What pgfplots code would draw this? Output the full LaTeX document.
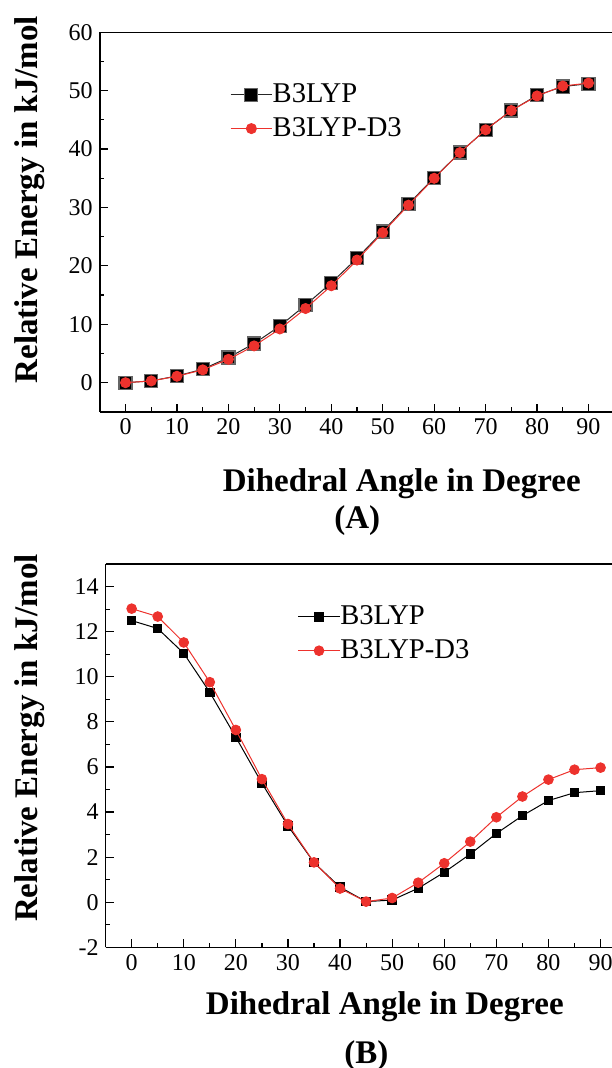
\documentclass[border=0pt]{standalone}
\usepackage{pgfplots}
\pgfplotsset{compat=1.18}
\usepackage{fontspec}
\setmainfont{Liberation Serif}
\definecolor{myred}{RGB}{237,50,45}
\begin{document}
\begin{tikzpicture}
\useasboundingbox (0,0) rectangle (305.5pt,534pt);
\pgfplotsset{
  every axis/.append style={
    scale only axis, clip mode=individual,
    axis x line*=box, axis y line*=left,
    /pgf/number format/assume math mode=true,
    tick label style={font=\fontsize{12}{14}\selectfont},
    label style={font=\fontsize{16.5}{19}\selectfont\bfseries},
    tick align=inside, tick pos=left,
    major tick length=4pt, minor tick length=2.2pt,
    axis line style={line width=0.7pt, -},
    tick style={line width=0.6pt, black},
    legend style={draw=none, fill=none, font=\fontsize{14.3}{16}\selectfont, row sep=6pt, inner sep=0pt, nodes={inner sep=0pt}},
    legend cell align=left,
    legend image code/.code={\draw[mark repeat=2,mark phase=2,#1] plot coordinates {(0pt,0pt) (10.4pt,0pt) (20.8pt,0pt)};},
    xtick={0,10,...,90}, minor x tick num=1, xmin=-5, xmax=95,
  }
}
\pgfplotstableread{
x b d
0 0 0
5 0.3 0.3
10 1.15 1.1
15 2.3 2.2
20 4.3 4.0
25 6.7 6.3
30 9.7 9.2
35 13.3 12.7
40 17.1 16.6
45 21.3 21.0
50 25.9 25.7
55 30.6 30.4
60 35.1 35.0
65 39.4 39.4
70 43.3 43.3
75 46.6 46.6
80 49.2 49.1
85 50.7 50.8
90 51.2 51.3
}\tableA
\pgfplotstableread{
x b d
0 12.49 13.02
5 12.14 12.67
10 11.04 11.52
15 9.31 9.76
20 7.32 7.64
25 5.28 5.46
30 3.39 3.47
35 1.76 1.77
40 0.67 0.61
45 0.03 0.03
50 0.10 0.19
55 0.62 0.87
60 1.33 1.73
65 2.14 2.69
70 3.05 3.77
75 3.84 4.69
80 4.51 5.44
85 4.86 5.88
90 4.95 5.97
}\tableB
\begin{axis}[at={(49.9pt,328.05pt)}, anchor=south west,
  width=257.2pt, height=189.8pt,
  ymin=-5, ymax=60, ytick={0,10,...,60}, minor y tick num=1,
  xlabel={Dihedral Angle in Degree}, ylabel={Relative Energy in kJ/mol},
  xlabel style={at={(axis description cs:0.587,-0.189)}, anchor=center},
  ylabel style={at={(axis description cs:-0.137,0.559)}, anchor=center},
  legend style={at={(axis description cs:0.2525,0.791)}, anchor=west}]
\addplot[black!85, line width=0.5pt, mark=square*, mark size=3.25pt, mark options={fill=black, draw=black!60, line width=0.6pt}] table[x=x,y=b] {\tableA};
\addlegendentry{B3LYP}
\addplot[myred, line width=0.5pt, mark=*, mark size=2.5pt, mark options={fill=myred, draw=myred}] table[x=x,y=d] {\tableA};
\addlegendentry{B3LYP-D3}
\node[font=\fontsize{16.5}{19}\selectfont\bfseries] at (axis description cs:0.5006,-0.286) {(A)};
\end{axis}
\begin{axis}[at={(52.8pt,60.3pt)}, anchor=south west,
  width=260.5pt, height=191.7pt,
  ymin=-2, ymax=15, ytick={-2,0,...,14}, minor y tick num=1,
  xlabel={Dihedral Angle in Degree}, ylabel={Relative Energy in kJ/mol},
  xlabel style={at={(axis description cs:0.536,-0.154)}, anchor=center},
  ylabel style={at={(axis description cs:-0.146,0.546)}, anchor=center},
  legend style={at={(axis description cs:0.368,0.818)}, anchor=west}]
\addplot[black, line width=0.5pt, mark=square*, mark size=2.1pt, mark options={fill=black, draw=black}] table[x=x,y=b] {\tableB};
\addlegendentry{B3LYP}
\addplot[myred, line width=0.5pt, mark=*, mark size=2.4pt, mark options={fill=myred, draw=myred}] table[x=x,y=d] {\tableB};
\addlegendentry{B3LYP-D3}
\node[font=\fontsize{16.5}{19}\selectfont\bfseries] at (axis description cs:0.5007,-0.281) {(B)};
\end{axis}
\end{tikzpicture}
\end{document}
